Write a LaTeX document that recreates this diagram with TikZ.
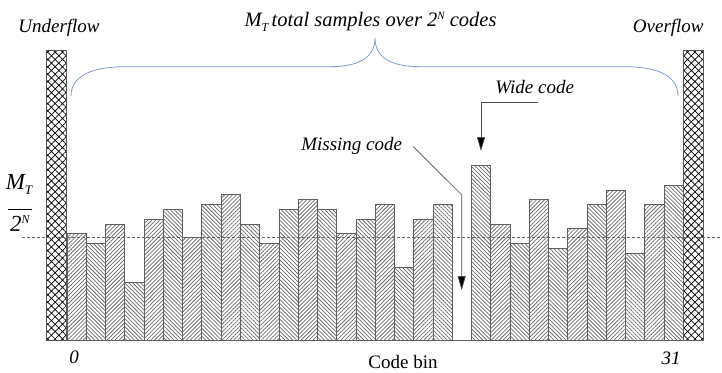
\documentclass[tikz,border=0pt]{standalone}
\usepackage{fontspec}
\setmainfont{Liberation Serif}[ItalicFont={Liberation Serif Italic}]
\usetikzlibrary{patterns.meta,arrows.meta}
\definecolor{bracecol}{RGB}{125,155,210}
\begin{document}
\begin{tikzpicture}[x=1pt,y=-1pt,
  lbl/.style={font=\fontsize{19}{22}\selectfont\itshape, inner sep=0pt, anchor=base},
  rom/.style={font=\fontsize{19}{22}\selectfont, inner sep=0pt, anchor=base},
  barA/.style={draw=gray!75!black, line width=0.7pt, pattern={Lines[angle=45,distance=2.8pt,line width=0.75pt]}, pattern color=gray!85!black},
  barB/.style={draw=gray!75!black, line width=0.7pt, pattern={Lines[angle=-45,distance=2.8pt,line width=0.75pt]}, pattern color=gray!85!black},
  flowbar/.style={draw=gray!70!black, line width=0.7pt, pattern={Hatch[angle=45,distance=5.2pt,line width=0.7pt]}, pattern color=black},
  pointer/.style={draw=gray!60!black, line width=0.6pt, -{Triangle[length=14pt,width=8pt,fill=black]}},
  bracelin/.style={draw=bracecol, line width=0.8pt}
]
\useasboundingbox (0,0) rectangle (722,372);
% bars
\def\bw{19.26}
\foreach \i/\t in {0/233.3,1/243.3,2/224,3/282,4/219,5/209.3,6/237.7,7/204.3,8/194.7,9/224,10/243.3,11/209.3,12/199.7,13/209.3,14/233.3,15/219,16/204.3,17/267.3,18/219,19/204.3,21/165.7,22/224,23/243.3,24/199.7,25/248.3,26/228.7,27/204.3,28/190.3,29/253,30/204.3,31/185}{
  \pgfmathsetmacro{\xa}{67+\i*\bw}
  \pgfmathsetmacro{\xb}{67+(\i+1)*\bw}
  \pgfmathparse{int(mod(\i,2))}
  \ifnum\pgfmathresult=0
    \path[barA] (\xa,340) rectangle (\xb,\t);
  \else
    \path[barB] (\xa,340) rectangle (\xb,\t);
  \fi
}
% baseline
\draw[gray!75!black, line width=0.7pt] (46.7,340) -- (703.3,340);
% underflow / overflow
\path[flowbar] (46.7,340) rectangle (66.7,50);
\path[flowbar] (683.3,340) rectangle (703.3,50);
% ideal level
\draw[gray!80!black, line width=0.6pt, dash pattern=on 2.5pt off 2.5pt] (22,237.3) -- (722,237.3);
% brace
\draw[bracelin] (71,96) .. controls (71,74) and (96,66.7) .. (125,66.7)
  -- (330,66.7) .. controls (358,66.7) and (375,58) .. (375,38)
  .. controls (375,58) and (392,66.7) .. (420,66.7)
  -- (625,66.7) .. controls (654,66.7) and (678,74) .. (678,96);
% labels
\node[lbl] (under) at (59,32.5) {Underflow};
\node[lbl] (over) at (668.3,32.3) {Overflow};
\node[lbl, font=\fontsize{20.5}{24}\selectfont\itshape] (title) at (370.5,26.7) {M\raisebox{-0.5ex}{\fontsize{12}{12}\selectfont T}\,total samples over 2\raisebox{0.75ex}{\fontsize{11}{11}\selectfont N} codes};
\node[lbl] (wide) at (534.7,93.3) {Wide code};
\node[lbl] (miss) at (351.7,150) {Missing code};
\node[rom] (codebin) at (403,368) {Code bin};
\node[lbl] (zero) at (74,363.3) {0};
\node[lbl] (last) at (671,364.3) {31};
\node[lbl, font=\fontsize{23}{26}\selectfont\itshape] (mt) at (19,189) {M\raisebox{-0.5ex}{\fontsize{13}{13}\selectfont T}};
\node[lbl, font=\fontsize{23}{26}\selectfont\itshape] (twon) at (20,231.7) {2\raisebox{0.75ex}{\fontsize{12}{12}\selectfont N}};
\draw[black, line width=0.8pt] (8,209.3) -- (32,209.3);
% pointers
\coordinate (wbend) at (481,102.3);
\coordinate (wtip) at (481,151);
\coordinate (wstart) at (538,102.3);
\draw[pointer] (wstart) -- (wbend) -- (wtip);
\coordinate (mstart) at (413.3,146.7);
\coordinate (mbend) at (461.7,195);
\coordinate (mtip) at (461.7,290);
\draw[pointer] (mstart) -- (mbend) -- (mtip);
\end{tikzpicture}
\end{document}
